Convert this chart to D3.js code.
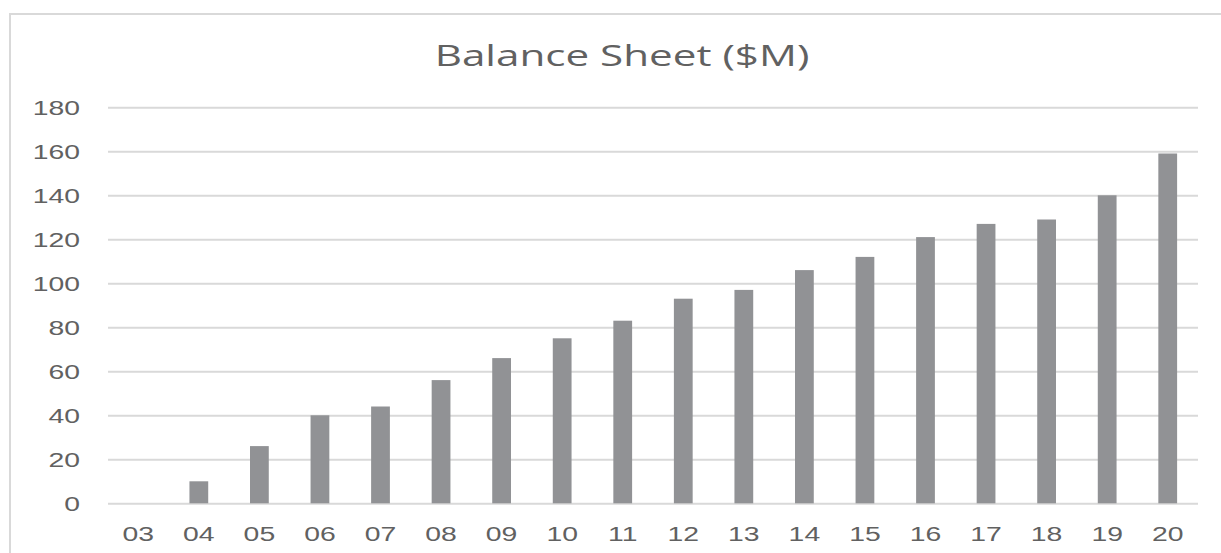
<!DOCTYPE html>
<html>
<head>
<meta charset="utf-8">
<script src="https://cdn.jsdelivr.net/npm/d3@7"></script>
<style>
  body { margin: 0; background: #fff; }
  svg { display: block; font-family: "Open Sans", "Noto Sans", sans-serif; }
</style>
</head>
<body>
<svg width="1221" height="553"></svg>
<script>
// data
var years = ["03", "04", "05", "06", "07", "08", "09", "10", "11",
             "12", "13", "14", "15", "16", "17", "18", "19", "20"];
var balance = [0, 10, 26, 40, 44, 56, 66, 75, 83,
               93, 97, 106, 112, 121, 127, 129, 140, 159];
var yTicks = [0, 20, 40, 60, 80, 100, 120, 140, 160, 180];
var title = "Balance Sheet ($M)";

var svg = d3.select("svg");
var stretch = 1.35;   // the reference text is drawn wide
var textColor = "#616161";

// chart frame (only left and top edges are visible)
svg.append("rect")
   .attr("x", 10).attr("y", 14)
   .attr("width", 1240).attr("height", 600)
   .attr("fill", "none")
   .attr("stroke", "#d9d9d9")
   .attr("stroke-width", 2);

var x = d3.scaleBand()
          .domain(years)
          .range([108, 1198])
          .paddingInner(0.69)
          .paddingOuter(0.345);

var y = d3.scaleLinear()
          .domain([0, 180])
          .range([503.3, 107.3]);

// gridlines + y labels
var yAxis = svg.append("g")
   .attr("transform", "translate(108,0)")
   .call(d3.axisLeft(y).tickValues(yTicks).tickSize(-1090).tickPadding(0));

yAxis.select(".domain").remove();
yAxis.selectAll(".tick line")
     .attr("stroke", "#d9d9d9")
     .attr("stroke-width", 2);
yAxis.selectAll(".tick text")
     .attr("x", -28 / stretch)
     .attr("dy", "0.36em")
     .attr("transform", "scale(" + stretch + ",1)")
     .attr("fill", textColor)
     .style("font-size", "21px");

// bars
svg.append("g")
   .selectAll("rect")
   .data(years)
   .enter()
   .append("rect")
   .attr("x", function(d) { return x(d); })
   .attr("width", x.bandwidth())
   .attr("y", function(d, i) { return y(balance[i]); })
   .attr("height", function(d, i) { return y(0) - y(balance[i]); })
   .attr("fill", "#919295");

// x labels
var xAxis = svg.append("g")
   .attr("transform", "translate(0," + y(0) + ")")
   .call(d3.axisBottom(x).tickSize(0));

xAxis.select(".domain").remove();
xAxis.selectAll(".tick text")
     .attr("y", 38)
     .attr("dy", 0)
     .attr("transform", "scale(" + stretch + ",1)")
     .attr("fill", textColor)
     .style("font-size", "21px");

// title
svg.append("text")
   .attr("transform", "translate(622,66) scale(1.48,1)")
   .attr("text-anchor", "middle")
   .attr("fill", textColor)
   .style("font-size", "28.5px")
   .text(title);
</script>
</body>
</html>
